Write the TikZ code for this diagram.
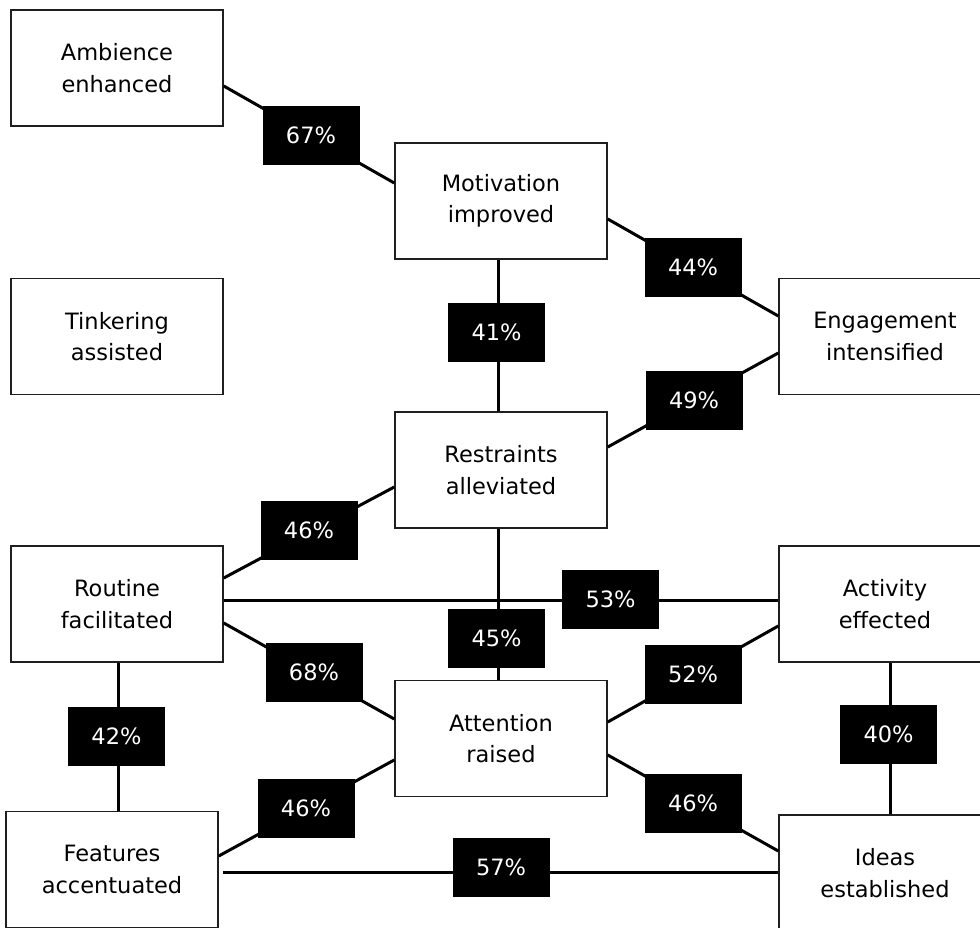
\documentclass[tikz,border=0pt]{standalone}
\usepackage{fontspec}
\setmainfont{DejaVu Sans}
\begin{document}
\begin{tikzpicture}[x=1pt,y=-1pt,
  box/.style={draw=black!88, line width=1.5pt, fill=white, minimum width=212pt, minimum height=116pt,
    inner sep=0pt, align=center, font=\fontsize{22.5}{31.5}\selectfont},
  pct/.style={fill=black, text=white, minimum width=97pt, minimum height=59pt, inner sep=0pt,
    font=\fontsize{22.5}{27}\selectfont},
  link/.style={line width=3pt, draw=black}]
\useasboundingbox (0,0) rectangle (980,928);
\clip (0,0) rectangle (980,928);
% boxes
\node[box] (amb) at (117,68) {Ambience\\enhanced};
\node[box] (mot) at (501,201) {Motivation\\improved};
\node[box] (tin) at (117,336.5) {Tinkering\\assisted};
\node[box] (eng) at (885,336.5) {Engagement\\intensified};
\node[box] (res) at (501,470) {Restraints\\alleviated};
\node[box] (rou) at (117,604) {Routine\\facilitated};
\node[box] (act) at (885,604) {Activity\\effected};
\node[box] (att) at (501,738.5) {Attention\\raised};
\node[box] (fea) at (112,869.5) {Features\\accentuated};
\node[box] (ide) at (885,873) {Ideas\\established};
% connectors
\draw[link] ([yshift=-18]amb.east) -- ([yshift=18]mot.west);
\draw[link] ([yshift=-18]mot.east) -- ([yshift=20.5]eng.west);
\draw[link] ([xshift=-3]mot.south) -- ([xshift=-3]res.north);
\draw[link] ([yshift=23]res.east) -- ([yshift=-16.5]eng.west);
\draw[link] ([yshift=26]rou.east) -- ([yshift=-17]res.west);
\draw[link] ([yshift=4]rou.east) -- ([yshift=4]act.west);
\draw[link] ([xshift=-3]res.south) -- ([xshift=-3]att.north);
\draw[link] ([yshift=-19]rou.east) -- ([yshift=19.5]att.west);
\draw[link] ([yshift=16.5]att.east) -- ([yshift=-22]act.west);
\draw[link] ([xshift=5]act.south) -- ([xshift=5]ide.north);
\draw[link] ([yshift=-16.5]att.east) -- ([yshift=22]ide.west);
\draw[link] ([xshift=1]rou.south) -- ([xshift=1]rou.south |- fea.north);
\draw[link] ([yshift=13.5]fea.east) -- ([yshift=-21.5]att.west);
\draw[link] ([xshift=4,yshift=-2.5]fea.east) -- ([yshift=1]ide.west);
% labels
\node[pct] (p67) at (311,135.5) {67\%};
\node[pct] (p44) at (693,267.5) {44\%};
\node[pct] (p41) at (496.5,332) {41\%};
\node[pct] (p49) at (694,400.5) {49\%};
\node[pct] (p46a) at (309,530.5) {46\%};
\node[pct] (p53) at (610.5,599) {53\%};
\node[pct] (p45) at (496.5,638) {45\%};
\node[pct] (p68) at (314,672.5) {68\%};
\node[pct] (p52) at (693,674.5) {52\%};
\node[pct] (p40) at (888.5,734) {40\%};
\node[pct] (p42) at (116.5,736.5) {42\%};
\node[pct] (p46b) at (693,803.5) {46\%};
\node[pct] (p46c) at (306,808.5) {46\%};
\node[pct] (p57) at (501,867) {57\%};
\end{tikzpicture}
\end{document}
